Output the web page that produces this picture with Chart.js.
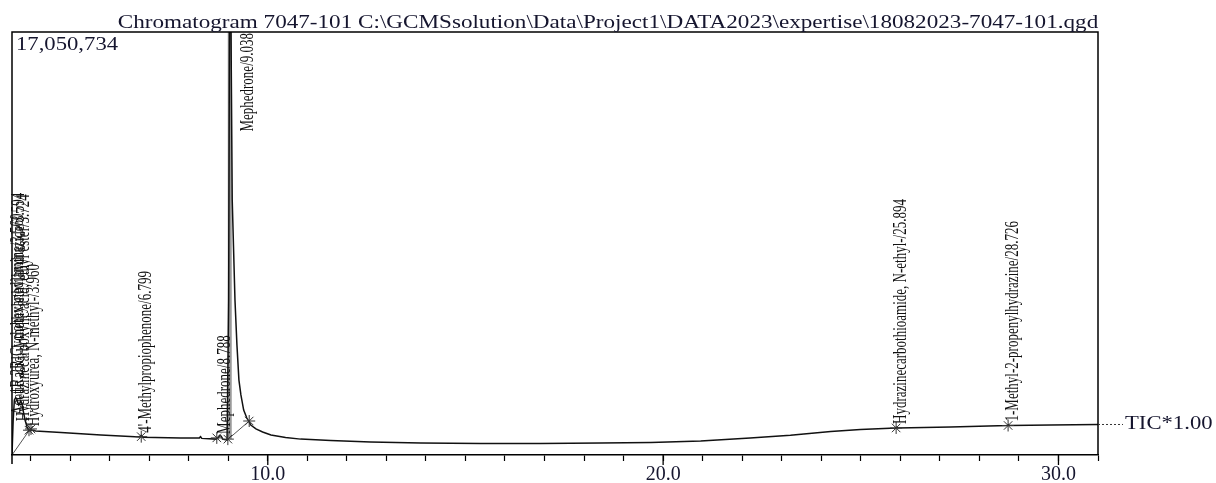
<!DOCTYPE html>
<html>
<head>
<meta charset="utf-8">
<script src="https://cdn.jsdelivr.net/npm/chart.js@4/dist/chart.umd.min.js"></script>
<style>
  html, body { margin: 0; padding: 0; background: #fff; }
  #wrap { width: 1216px; height: 483px; position: relative; }
</style>
</head>
<body>
<div id="wrap"><canvas id="tic"></canvas></div>
<script>
var TITLE = "Chromatogram 7047-101 C:\\GCMSsolution\\Data\\Project1\\DATA2023\\expertise\\18082023-7047-101.qgd";
var Y_MAX = 17050734;
var X_MIN = 3.53, X_MAX = 31.0;
var majorTicks = [10, 20, 30];

// retention time (min) / intensity
var retTime = [3.53, 3.56, 3.59, 3.62, 3.65, 3.68, 3.70, 3.73, 3.75, 3.78, 3.81, 3.86, 3.91, 3.96, 4.01,
    4.13, 4.77, 5.78, 6.76, 6.80, 6.84, 7.80, 8.27, 8.30, 8.33, 8.69, 8.75, 8.78, 8.82, 8.86, 8.97,
    9.01, 9.03, 9.07, 9.10, 9.17, 9.22, 9.27, 9.32, 9.39, 9.47, 9.57, 9.70, 9.87, 10.08, 10.45, 10.83,
    11.59, 12.60, 13.87, 15.39, 16.90, 18.42, 19.69, 20.95, 22.20, 23.22, 24.24, 24.99, 25.88, 25.90,
    25.93, 27.27, 28.71, 28.73, 28.76, 29.80, 31.00];
var intensity = [0, 1410000, 2220000, 2300000, 2260000, 2100000, 2020000, 2100000, 2180000, 2100000, 1810000, 1410000, 1130000, 970000, 1010000,
    970000, 910000, 810000, 730000, 790000, 720000, 690000, 690000, 740000, 670000, 640000, 700000, 780000, 760000, 640000, 600000,
    6250000, 17050734, 17050734, 10300000, 6250000, 4430000, 3020000, 2420000, 1810000, 1490000, 1210000, 1050000, 930000, 810000, 710000, 640000,
    580000, 520000, 480000, 460000, 460000, 480000, 500000, 560000, 690000, 800000, 950000, 1030000, 1090000, 1120000,
    1090000, 1130000, 1190000, 1220000, 1190000, 1210000, 1230000];

// identified peaks
var peakTimes = [3.560, 3.594, 3.724, 3.960, 6.799, 8.788, 9.038, 25.894, 28.726];
var peakNames = [
    "1R,2R-Cyclohexanediamine/3.560",
    "Acetic acid, 1-methylethylhydrazide/3.594",
    "Hydrazinecarboxylic acid, ethyl ester/3.724",
    "Hydroxyurea, N-methyl-/3.960",
    "4'-Methylpropiophenone/6.799",
    "Mephedrone/8.788",
    "Mephedrone/9.038",
    "Hydrazinecarbothioamide, N-ethyl-/25.894",
    "1-Methyl-2-propenylhydrazine/28.726"
];
var peakLevel = [2300000, 1450000, 1200000, 1000000, 740000, 690000, 17050734, 1090000, 1190000];

// integration marks
var markTimes = [3.96, 4.01, 6.799, 8.71, 8.99, 9.53, 25.894, 28.726];
var markLevel = [1000000, 1050000, 740000, 690000, 640000, 1370000, 1090000, 1190000];
var baseTimes = [3.53, 3.97, 6.0, 9.00, 9.53];
var baseLevel = [0, 1000000, null, 640000, 1370000];
var apexTimes = [9.038, 9.038];
var apexLevel = [640000, 17050734];

var SX = 1.26;
function wideText(ctx, txt, x, y, align, sx) {
    ctx.save();
    ctx.translate(x, y);
    ctx.scale(sx || SX, 1);
    ctx.textAlign = align;
    ctx.fillText(txt, 0, 0);
    ctx.restore();
}

var gcmsDecor = {
    id: 'gcmsDecor',
    afterDraw: function(chart) {
        var ctx = chart.ctx, a = chart.chartArea;
        var xs = chart.scales.x, ys = chart.scales.y;
        ctx.save();
        // frame
        ctx.strokeStyle = '#000';
        ctx.lineWidth = 1.5;
        ctx.beginPath();
        ctx.moveTo(a.left, a.bottom + 9);
        ctx.lineTo(a.left, a.top);
        ctx.lineTo(a.right, a.top);
        ctx.lineTo(a.right, a.bottom);
        ctx.stroke();
        // longer major ticks
        ctx.lineWidth = 1.3;
        majorTicks.forEach(function(v) {
            var px = xs.getPixelForValue(v);
            ctx.beginPath();
            ctx.moveTo(px, a.bottom);
            ctx.lineTo(px, a.bottom + 10);
            ctx.stroke();
        });
        // title + max
        ctx.fillStyle = '#15152e';
        ctx.font = '18px "Liberation Serif"';
        ctx.textBaseline = 'alphabetic';
        wideText(ctx, TITLE, a.right - 490, a.top - 4, 'center', 1.285);
        wideText(ctx, Y_MAX.toLocaleString('en-US'), a.left + 4, a.top + 18, 'left');
        // TIC marker
        var yEnd = ys.getPixelForValue(intensity[intensity.length - 1]);
        ctx.setLineDash([2, 2]);
        ctx.lineWidth = 1;
        ctx.strokeStyle = '#333';
        ctx.beginPath();
        ctx.moveTo(a.right, yEnd);
        ctx.lineTo(a.right + 25, yEnd);
        ctx.stroke();
        ctx.setLineDash([]);
        ctx.textBaseline = 'middle';
        wideText(ctx, 'TIC*1.00', a.right + 27, yEnd, 'left');
        // peak labels
        ctx.font = '13px "Liberation Serif"';
        ctx.fillStyle = '#111';
        peakTimes.forEach(function(t, i) {
            var txt = peakNames[i];
            var len = ctx.measureText(txt).width;
            var px = xs.getPixelForValue(t) + 5;
            var base = ys.getPixelForValue(peakLevel[i]) - 4;
            if (base - len < a.top + 1) {
                base = a.top + 1 + len;
                px += 13;
            }
            ctx.save();
            ctx.translate(px, base);
            ctx.scale(1.4, 1);
            ctx.rotate(-Math.PI / 2);
            ctx.textAlign = 'left';
            ctx.textBaseline = 'middle';
            ctx.fillText(txt, 0, 0);
            ctx.restore();
        });
        ctx.restore();
    }
};

new Chart(document.getElementById('tic'), {
    type: 'line',
    data: {
        datasets: [{
            label: 'TIC',
            data: retTime.map(function(t, i) { return {x: t, y: intensity[i]}; }),
            borderColor: '#111',
            borderWidth: 1.5,
            pointRadius: 0,
            tension: 0,
            order: 1
        }, {
            label: 'apex',
            data: apexTimes.map(function(t, i) { return {x: t, y: apexLevel[i]}; }),
            borderColor: '#9a9a9a',
            borderWidth: 4,
            pointRadius: 0,
            order: 3
        }, {
            label: 'baseline',
            data: baseTimes.map(function(t, i) { return {x: t, y: baseLevel[i]}; }),
            borderColor: '#555',
            borderWidth: 1,
            pointRadius: 0,
            spanGaps: false,
            order: 2
        }, {
            label: 'marks',
            data: markTimes.map(function(t, i) { return {x: t, y: markLevel[i]}; }),
            showLine: false,
            pointStyle: 'star',
            pointRadius: 6,
            borderColor: '#333',
            borderWidth: 1,
            order: 0
        }]
    },
    options: {
        responsive: true,
        maintainAspectRatio: false,
        animation: false,
        layout: { padding: { left: 12, top: 32, right: 118, bottom: 0 } },
        plugins: { legend: { display: false }, tooltip: { enabled: false } },
        scales: {
            x: {
                type: 'linear',
                min: X_MIN,
                max: X_MAX,
                afterFit: function(s) { s.height = 28; },
                border: { display: true, color: '#000', width: 1.5 },
                grid: { drawOnChartArea: false, drawTicks: true, tickLength: 6, tickColor: '#000', tickWidth: 1.2 },
                ticks: {
                    stepSize: 1,
                    autoSkip: false,
                    includeBounds: false,
                    maxRotation: 0,
                    padding: 2,
                    color: '#15152e',
                    font: { family: 'Liberation Serif', size: 20 },
                    callback: function(v) { return v % 10 === 0 ? v.toFixed(1) : ''; }
                }
            },
            y: { display: false, min: 0, max: Y_MAX }
        }
    },
    plugins: [gcmsDecor]
});
</script>
</body>
</html>
